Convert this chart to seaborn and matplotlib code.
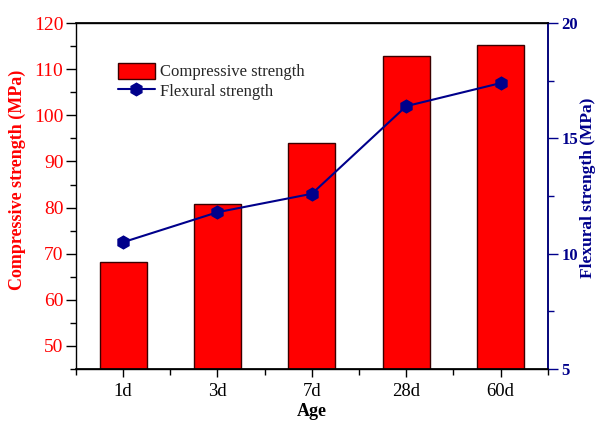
import matplotlib
matplotlib.use("Agg")
import matplotlib.pyplot as plt
import seaborn as sns
import pandas as pd
from matplotlib.patches import Patch
from matplotlib.lines import Line2D
from matplotlib.ticker import MultipleLocator, FixedLocator

ages = ["1d", "3d", "7d", "28d", "60d"]
compressive = [68.2, 80.8, 94.1, 112.8, 115.2]
flexural = [10.5, 11.8, 12.6, 16.4, 17.4]

sns.set_theme(style="white")
plt.rcParams['font.family'] = ['Liberation Serif', 'DejaVu Serif']

df = pd.DataFrame({"Age": ages, "Compressive": compressive, "Flexural": flexural})

fig = plt.figure(figsize=(5.98, 4.21), dpi=100)
ax = fig.add_axes([0.127, 0.1235, 0.789, 0.8215])

sns.barplot(data=df, x="Age", y="Compressive", ax=ax, color="#ff0000",
            saturation=1, width=0.5, edgecolor="#3a0000", linewidth=1.0)
ax2 = ax.twinx()
navy = "#00008b"
red = "#ff0000"
sns.pointplot(data=df, x="Age", y="Flexural", ax=ax2, color=navy,
              markers="h", linestyles="-", markersize=9, linewidth=1.5)

ax.set_xlim(-0.5, 4.5)
ax.set_ylim(45, 120)
ax2.set_ylim(5, 20)
ax2.set_xlim(-0.5, 4.5)

ax.set_yticks([50, 60, 70, 80, 90, 100, 110, 120])
ax.yaxis.set_minor_locator(MultipleLocator(5))
ax.xaxis.set_minor_locator(FixedLocator([-0.5, 0.5, 1.5, 2.5, 3.5, 4.5]))
ax2.set_yticks([5, 10, 15, 20])
ax2.yaxis.set_minor_locator(MultipleLocator(2.5))

ax.tick_params(axis="y", which="major", direction="out", length=7, width=1,
               colors="black", labelcolor=red, labelsize=14, left=True, pad=2)
ax.tick_params(axis="y", which="minor", direction="out", length=4, width=1,
               color="black", left=True)
ax.tick_params(axis="x", which="major", direction="out", length=6, width=1,
               colors="black", labelsize=13.5, bottom=True, pad=4)
ax.tick_params(axis="x", which="minor", direction="out", length=4, width=1,
               color="black", bottom=True)
ax2.tick_params(axis="y", which="major", direction="out", length=7, width=1,
                colors=navy, labelsize=12, right=True, pad=3)
ax2.tick_params(axis="y", which="minor", direction="out", length=4, width=1,
                color=navy, right=True)
for lab in ax2.get_yticklabels():
    lab.set_fontweight("bold")

for sp in ["left", "top", "bottom"]:
    ax.spines[sp].set_color("black")
    ax.spines[sp].set_linewidth(1)
ax2.spines["right"].set_color(navy)
ax2.spines["right"].set_linewidth(1.2)
ax2.spines["left"].set_visible(False)
ax2.spines["top"].set_color("black")
ax2.spines["bottom"].set_color("black")

ax.set_xlabel("Age", fontsize=13, fontweight="bold", color="black", labelpad=2)
ax.set_ylabel("Compressive strength (MPa)", fontsize=13, fontweight="bold",
              color=red)
ax.yaxis.set_label_coords(-0.106, 0.546)
ax2.set_ylabel("Flexural strength (MPa)", fontsize=12.5, fontweight="bold",
               color=navy, rotation=90)
ax2.yaxis.set_label_coords(1.069, 0.523)

handles = [
    Patch(facecolor=red, edgecolor="#3a0000", linewidth=1.0),
    Line2D([0], [0], color=navy, marker="h", markersize=9, linewidth=1.5),
]
ax2.legend(handles, ["Compressive strength", "Flexural strength"],
           loc="upper left", bbox_to_anchor=(0.075, 0.905), frameon=False,
           fontsize=12, handlelength=2.2, handleheight=1.1,
           handletextpad=0.3, labelspacing=0.1, borderaxespad=0)

fig.savefig("out.png", dpi=100)
